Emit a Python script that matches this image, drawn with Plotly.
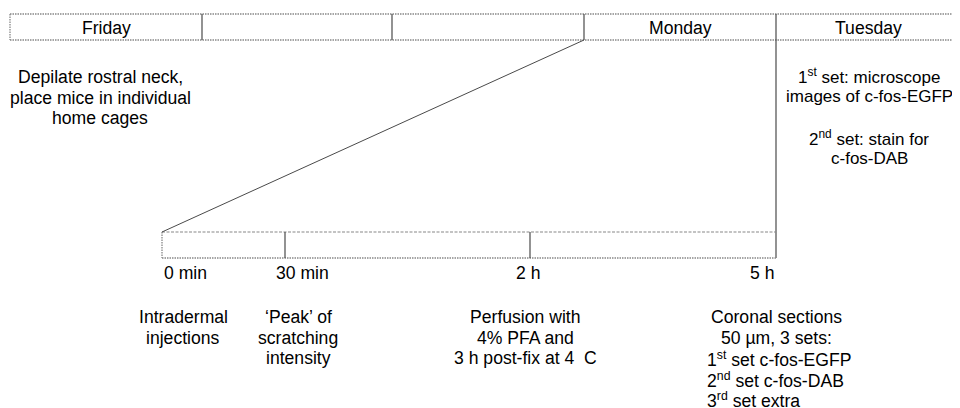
import plotly.graph_objects as go

# ---- data ----
day_labels = ["Friday", "", "", "Monday", "Tuesday"]
day_edges = [10, 202, 392, 584, 776, 960]

time_labels = ["0 min", "30 min", "2 h", "5 h"]
time_pos = [162, 285, 530, 776]

friday_note = ["Depilate rostral neck,", "place mice in individual", "home cages"]
tuesday_note = ["1<sup>st</sup> set: microscope", "images of c-fos-EGFP", "",
                "2<sup>nd</sup> set: stain for", "c-fos-DAB"]
note_injection = ["Intradermal", "injections"]
note_peak = ["\u2018Peak\u2019 of", "scratching", "intensity"]
note_perfusion = ["Perfusion with", "4% PFA and", "3 h post-fix at 4 \u00a0C"]
note_sections_head = ["Coronal sections", "50 \u00b5m, 3 sets:"]
note_sections_list = ["1<sup>st</sup> set c-fos-EGFP", "2<sup>nd</sup> set c-fos-DAB",
                      "3<sup>rd</sup> set extra"]

# ---- layout constants ----
TOP_Y0, TOP_Y1 = 14, 40
BOT_Y0, BOT_Y1 = 232, 258
LINE_H = 20.6
FONT = "Liberation Sans, Arial, sans-serif"
FS = 17.6
FS_SMALL = 17.0
GRAY = "#4a4a4a"
LGRAY = "#888888"
PAGE_OFF = 8  # page body margin compensation

fig = go.Figure()

def seg(x, y, color=GRAY, dash="solid", width=1.2):
    fig.add_trace(go.Scatter(x=x, y=y, mode="lines", hoverinfo="skip",
                             line=dict(color=color, dash=dash, width=width),
                             showlegend=False))

DOT = "1.5px,1px"
DASH = "3px,1.5px"

# top day bar
seg([day_edges[0], day_edges[-1] + 20], [TOP_Y0, TOP_Y0], LGRAY, DOT, 1.3)
seg([day_edges[0], day_edges[-1] + 20], [TOP_Y1, TOP_Y1], LGRAY, DOT, 1.3)
seg([day_edges[0], day_edges[0]], [TOP_Y0, TOP_Y1], LGRAY, DOT, 1.3)
for xe in day_edges[1:4]:
    seg([xe, xe], [TOP_Y0, TOP_Y1], GRAY, "solid", 1.2)
# Tuesday divider continues down to the end of the timeline
seg([day_edges[4], day_edges[4]], [TOP_Y0, BOT_Y1], GRAY, "solid", 1.2)

for i, lab in enumerate(day_labels):
    if lab:
        fig.add_annotation(x=(day_edges[i] + day_edges[i + 1]) / 2, y=(TOP_Y0 + TOP_Y1) / 2 + 0.5,
                           text=lab, showarrow=False, xanchor="center", yanchor="middle",
                           font=dict(size=FS, color="black", family=FONT))

# bottom timeline bar
seg([time_pos[0], time_pos[-1]], [BOT_Y0, BOT_Y0], LGRAY, DASH, 1.2)
seg([time_pos[0], time_pos[-1]], [BOT_Y1, BOT_Y1], LGRAY, DOT, 1.3)
seg([time_pos[0], time_pos[0]], [BOT_Y0, BOT_Y1], LGRAY, DOT, 1.3)
for xp in time_pos[1:3]:
    seg([xp, xp], [BOT_Y0, BOT_Y1], GRAY, "solid", 1.2)

# zoom connector
seg([time_pos[0], day_edges[3]], [BOT_Y0, TOP_Y1], GRAY, "solid", 1.0)

# time labels
for i, lab in enumerate(time_labels):
    anchor = "left" if i == 0 else ("right" if i == len(time_labels) - 1 else "center")
    xx = time_pos[i]
    if i in (1, 2):
        xx = time_pos[i] + (17 if i == 1 else -2)
    fig.add_annotation(x=xx, y=273, text=lab, showarrow=False, xanchor=anchor,
                       yanchor="middle", font=dict(size=FS, color="black", family=FONT))

def block(lines, x, y0, anchor="center", size=FS):
    for k, ln in enumerate(lines):
        if not ln:
            continue
        fig.add_annotation(x=x, y=y0 + k * LINE_H, text=ln, showarrow=False,
                           xanchor=anchor, yanchor="middle",
                           font=dict(size=size, color="black", family=FONT))

block(friday_note, 100, 77)
block(tuesday_note, 869, 76, size=FS_SMALL)
block(note_injection, 183, 317)
block(note_peak, 298, 317)
block(note_perfusion, 525, 317)
block(note_sections_head, 776, 317)
block(note_sections_list, 705, 318 + 2 * LINE_H, anchor="left")

fig.update_layout(
    width=960, height=408,
    margin=dict(l=0, r=0, t=0, b=0),
    paper_bgcolor="white", plot_bgcolor="white",
    xaxis=dict(range=[PAGE_OFF, 960 + PAGE_OFF], visible=False, fixedrange=True),
    yaxis=dict(range=[408 + PAGE_OFF, PAGE_OFF], visible=False, fixedrange=True),
)

fig.write_html("out.html")
